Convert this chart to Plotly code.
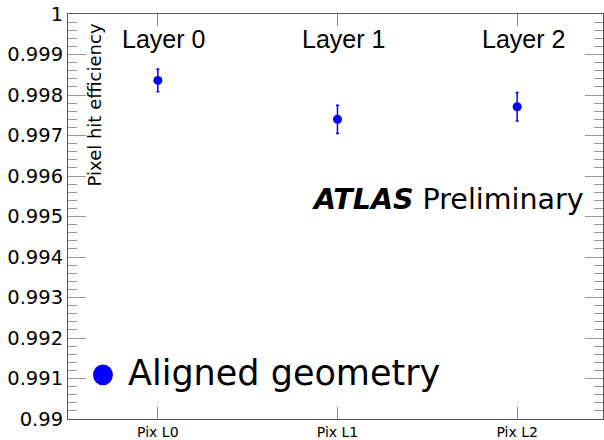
import plotly.graph_objects as go

categories = ["Pix L0", "Pix L1", "Pix L2"]
layer_labels = ["Layer 0", "Layer 1", "Layer 2"]
efficiency = [0.99836, 0.99740, 0.99771]
errors = [0.00028, 0.00035, 0.00035]
y_tickvals = [0.99, 0.991, 0.992, 0.993, 0.994, 0.995, 0.996, 0.997, 0.998, 0.999, 1.0]
y_ticktext = ["0.99", "0.991", "0.992", "0.993", "0.994", "0.995", "0.996", "0.997", "0.998", "0.999", "1"]

ARIAL = "Liberation Sans, Arial, sans-serif"
WIDE = "DejaVu Sans, Verdana, sans-serif"
xs = list(range(len(categories)))

L, T, W, H = 68, 14, 536, 408
def px(x):
    return (x - L) / W
def py(y):
    return 1 - (y - T) / H

fig = go.Figure()
fig.add_trace(go.Scatter(
    x=xs, y=efficiency, mode="markers",
    marker=dict(color="#0000ff", size=9),
    error_y=dict(type="data", array=errors, color="#0000ff", thickness=1.5, width=1.5),
    showlegend=False,
))

fig.update_layout(
    width=604, height=440,
    margin=dict(l=L, r=0, t=T, b=18),
    paper_bgcolor="white", plot_bgcolor="white",
    font=dict(family=ARIAL, color="black"),
)
fig.update_xaxes(
    range=[-0.5, 2.478], tickvals=xs, ticktext=categories,
    ticks="inside", ticklen=12, tickcolor="#888888", tickwidth=1,
    showline=True, linecolor="#555555", linewidth=1, mirror="allticks",
    showgrid=False, zeroline=False, tickfont=dict(size=14, family=WIDE),
    ticklabelstandoff=0,
)
fig.update_yaxes(
    range=[0.99, 1.0], tickvals=y_tickvals, ticktext=y_ticktext,
    ticks="inside", ticklen=18, tickcolor="#999999", tickwidth=1,
    minor=dict(dtick=0.0002, tick0=0.99, ticks="inside", ticklen=9, tickcolor="#999999", showgrid=False),
    showline=True, linecolor="#555555", linewidth=1, mirror="allticks",
    showgrid=False, zeroline=False, tickfont=dict(size=19.5, family=WIDE),
    ticklabelstandoff=0,
)

for i, lab in enumerate(layer_labels):
    fig.add_annotation(x=xs[i], y=0.99938, xref="x", yref="y", text=lab, showarrow=False,
                       xshift=6, font=dict(size=25, family=ARIAL), xanchor="center", yanchor="middle")

fig.add_annotation(x=px(94), y=py(21), xref="paper", yref="paper", text="Pixel hit efficiency",
                   showarrow=False, textangle=-90, xanchor="center", yanchor="top",
                   font=dict(size=18, family=WIDE))

fig.add_annotation(x=px(587), y=py(201), xref="paper", yref="paper",
                   text="<b><i>ATLAS</i></b> Preliminary", showarrow=False,
                   xanchor="right", yanchor="middle", font=dict(size=28.5, family=WIDE))

# legend
fig.add_shape(type="circle", xref="paper", yref="paper",
              x0=px(93), x1=px(113), y0=py(388), y1=py(367),
              fillcolor="#0000ff", line=dict(width=0))
fig.add_annotation(x=px(126), y=py(376), xref="paper", yref="paper",
                   text="Aligned geometry", showarrow=False, xanchor="left", yanchor="middle",
                   font=dict(size=35, family=WIDE))

fig.write_html("out.html")
